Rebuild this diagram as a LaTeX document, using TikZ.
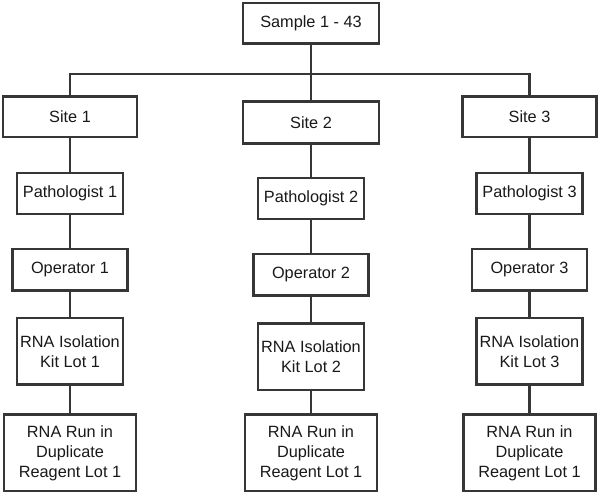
\documentclass[tikz,border=0pt]{standalone}
\usepackage{fontspec}
\setmainfont{Liberation Sans}
\usetikzlibrary{positioning}
\definecolor{boxline}{HTML}{363636}

\begin{document}
\begin{tikzpicture}[x=1pt,y=-1pt,on grid,line width=2.6pt,
    box/.style={draw=boxline,fill=white,align=center,inner sep=0pt,
      text=black!90,font=\fontsize{16.3}{20}\selectfont},
    sitebox/.style={box,minimum width=134pt,minimum height=40.7pt},
    pathobox/.style={box,minimum width=106pt,minimum height=41pt},
    opbox/.style={box,minimum width=114.7pt,minimum height=41.5pt},
    isobox/.style={box,minimum width=106pt,minimum height=66.5pt},
    runbox/.style={box,minimum width=132pt,minimum height=76.5pt}]
	\useasboundingbox (0,0) rectangle (600,494);
	\node[box,minimum width=135.7pt,minimum height=40.7pt] (top) at (311,23.3) {Sample 1 - 43};
	\coordinate (bus) at (311,74);
	% sites
	\node[sitebox] (s1) at (70,116.7) {Site 1};
	\node[sitebox,minimum width=135.7pt,minimum height=42.4pt] (s2) at (311,122.5) {Site 2};
	\node[sitebox] (s3) at (529.5,116.7) {Site 3};
	% column 1
	\node[pathobox] (p1) [below=76.7pt of s1] {Pathologist 1};
	\node[opbox] (o1) [below=76.4pt of p1] {Operator 1};
	\node[isobox] (k1) [below=81.5pt of o1] {RNA Isolation\\Kit Lot 1};
	\node[runbox] (r1) [below=101.5pt of k1] {RNA Run in\\Duplicate\\Reagent Lot 1};
	% column 2
	\node[pathobox] (p2) [below=76.2pt of s2] {Pathologist 2};
	\node[opbox] (o2) [below=76.2pt of p2] {Operator 2};
	\node[isobox] (k2) [below=81.8pt of o2] {RNA Isolation\\Kit Lot 2};
	\node[runbox] (r2) [below=96.1pt of k2] {RNA Run in\\Duplicate\\Reagent Lot 1};
	% column 3
	\node[pathobox] (p3) [below=76.7pt of s3] {Pathologist 3};
	\node[opbox] (o3) [below=76.4pt of p3] {Operator 3};
	\node[isobox] (k3) [below=81.5pt of o3] {RNA Isolation\\Kit Lot 3};
	\node[runbox] (r3) [below=101.6pt of k3] {RNA Run in\\Duplicate\\Reagent Lot 1};
	\begin{scope}[draw=boxline]
		\draw (top.south) -- (s2.north);
		\draw (s1.north) |- (bus) -| (s3.north);
		\draw (s1) -- (p1) -- (o1) -- (k1) -- (r1);
		\draw (s2) -- (p2) -- (o2) -- (k2) -- (r2);
		\draw (s3) -- (p3) -- (o3) -- (k3) -- (r3);
	\end{scope}
\end{tikzpicture}
\end{document}
